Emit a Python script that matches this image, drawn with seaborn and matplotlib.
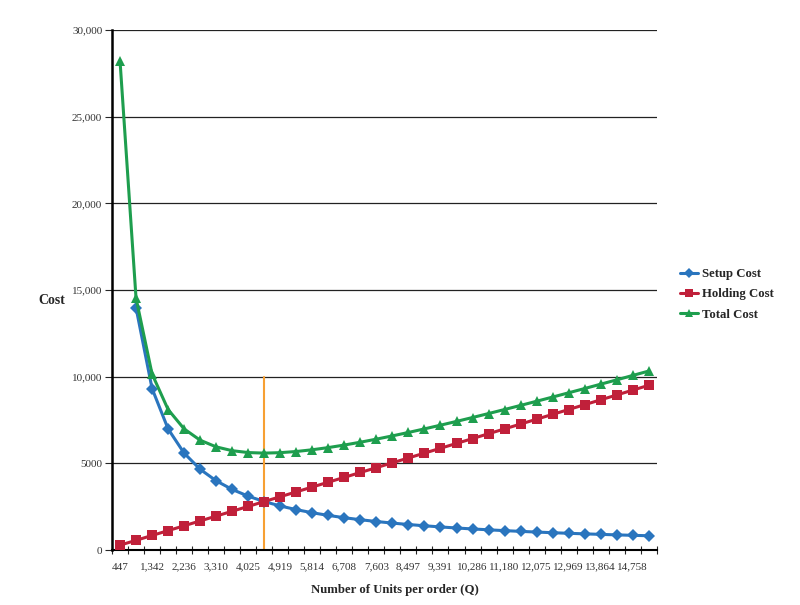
import numpy as np
import pandas as pd
import matplotlib
matplotlib.use("Agg")
import matplotlib.pyplot as plt
import seaborn as sns

# ==============================
# Data
# ==============================
order_qty = [447, 894, 1342, 1789, 2236, 2683, 3130, 3578, 4025, 4472,
             4919, 5367, 5814, 6261, 6708, 7155, 7603, 8050, 8497, 8944,
             9391, 9839, 10286, 10733, 11180, 11628, 12075, 12522, 12969, 13416,
             13864, 14311, 14758, 15205]

setup_cost = [np.nan, 13975, 9317, 6988, 5590, 4658, 3993, 3494, 3106, 2795,
              2541, 2329, 2150, 1996, 1863, 1747, 1644, 1553, 1471, 1398,
              1331, 1270, 1215, 1165, 1118, 1075, 1035, 998, 964, 932,
              902, 873, 847, 822]

holding_cost = [280, 559, 839, 1118, 1398, 1677, 1957, 2236, 2516, 2795,
                3075, 3354, 3634, 3913, 4193, 4472, 4752, 5031, 5311, 5590,
                5870, 6149, 6429, 6708, 6988, 7267, 7547, 7826, 8106, 8385,
                8665, 8944, 9224, 9503]

total_cost = [28231, 14534, 10156, 8106, 6988, 6335, 5950, 5730, 5622, 5590,
              5616, 5683, 5784, 5909, 6056, 6219, 6396, 6584, 6782, 6988,
              7201, 7419, 7644, 7873, 8106, 8342, 8582, 8824, 9070, 9317,
              9567, 9817, 10071, 10325]

# every other category is labelled (as printed on the chart)
x_labels = ["447", "1,342", "2,236", "3,310", "4,025", "4,919", "5,814",
            "6,708", "7,603", "8,497", "9,391", "10,286", "11,180", "12,075",
            "12,969", "13,864", "14,758"]

y_ticks = [0, 5000, 10000, 15000, 20000, 25000, 30000]
y_labels = ["0", "5000", "10,000", "15,000", "20,000", "25,000", "30,000"]

eoq_qty = 4472
eoq_line_top = 10000

# ==============================
# Plot
# ==============================
sns.set_style("white")
plt.rcParams["font.family"] = ["Liberation Serif", "DejaVu Serif"]

df = pd.DataFrame({
    "idx": np.arange(len(order_qty)),
    "Setup Cost": setup_cost,
    "Holding Cost": holding_cost,
    "Total Cost": total_cost,
})

fig = plt.figure(figsize=(8, 6.05), dpi=100)
ax = fig.add_axes([0.14, 0.0909, 0.681, 0.8595])

for y in y_ticks[1:]:
    ax.axhline(y, color="#222222", lw=0.9, zorder=0)

eoq_idx = order_qty.index(eoq_qty)
ax.plot([eoq_idx, eoq_idx], [0, eoq_line_top], color="#F7A033", lw=1.5, zorder=1)

series = [("Setup Cost", "#2A75BE", "D", 6),
          ("Holding Cost", "#C0203A", "s", 7),
          ("Total Cost", "#1E9E4E", "^", 7.5)]
for name, color, marker, ms in series:
    sns.lineplot(data=df, x="idx", y=name, ax=ax, color=color, lw=2.2,
                 marker=marker, markersize=ms, markeredgewidth=0,
                 label=name, zorder=3)

ax.set_xlim(-0.5, len(order_qty) - 0.5)
ax.set_ylim(0, 30000)

ax.set_xticks(np.arange(-0.5, len(order_qty), 1.0), minor=False)
ax.set_xticklabels([])
ax.set_xticks(np.arange(0, len(order_qty), 2), minor=True)
ax.set_xticklabels(x_labels, minor=True, fontsize=8, color="#333333")
ax.tick_params(axis="x", which="major", direction="inout", length=6, width=0.8, bottom=True)
ax.tick_params(axis="x", which="minor", length=0, pad=9)

ax.set_yticks(y_ticks)
ax.set_yticklabels(y_labels, fontsize=8, color="#333333")
ax.tick_params(axis="y", direction="out", length=5, width=0.8, left=True, pad=2)

for side in ["top", "right"]:
    ax.spines[side].set_visible(False)
ax.spines["left"].set_linewidth(1.8)
ax.spines["left"].set_color("black")
ax.spines["bottom"].set_linewidth(1.5)
ax.spines["bottom"].set_color("black")

ax.set_xlabel("")
ax.set_ylabel("")
fig.text(0.494, 0.0248, "Number of Units per order (Q)", fontsize=9.2,
         fontweight="bold", ha="center", va="center")
fig.text(0.0475, 0.503, "Cost", fontsize=10, fontweight="bold", ha="left", va="center")

handles, labels = ax.get_legend_handles_labels()
ax.get_legend().remove()
fig.legend(handles, labels, loc="center left", bbox_to_anchor=(0.8505, 0.5135),
           frameon=False, prop={"weight": "bold", "size": 9.2},
           handlelength=1.4, handletextpad=0.3, labelspacing=0.65,
           borderaxespad=0, borderpad=0, markerscale=0.8)

fig.savefig("out.png", dpi=100)
